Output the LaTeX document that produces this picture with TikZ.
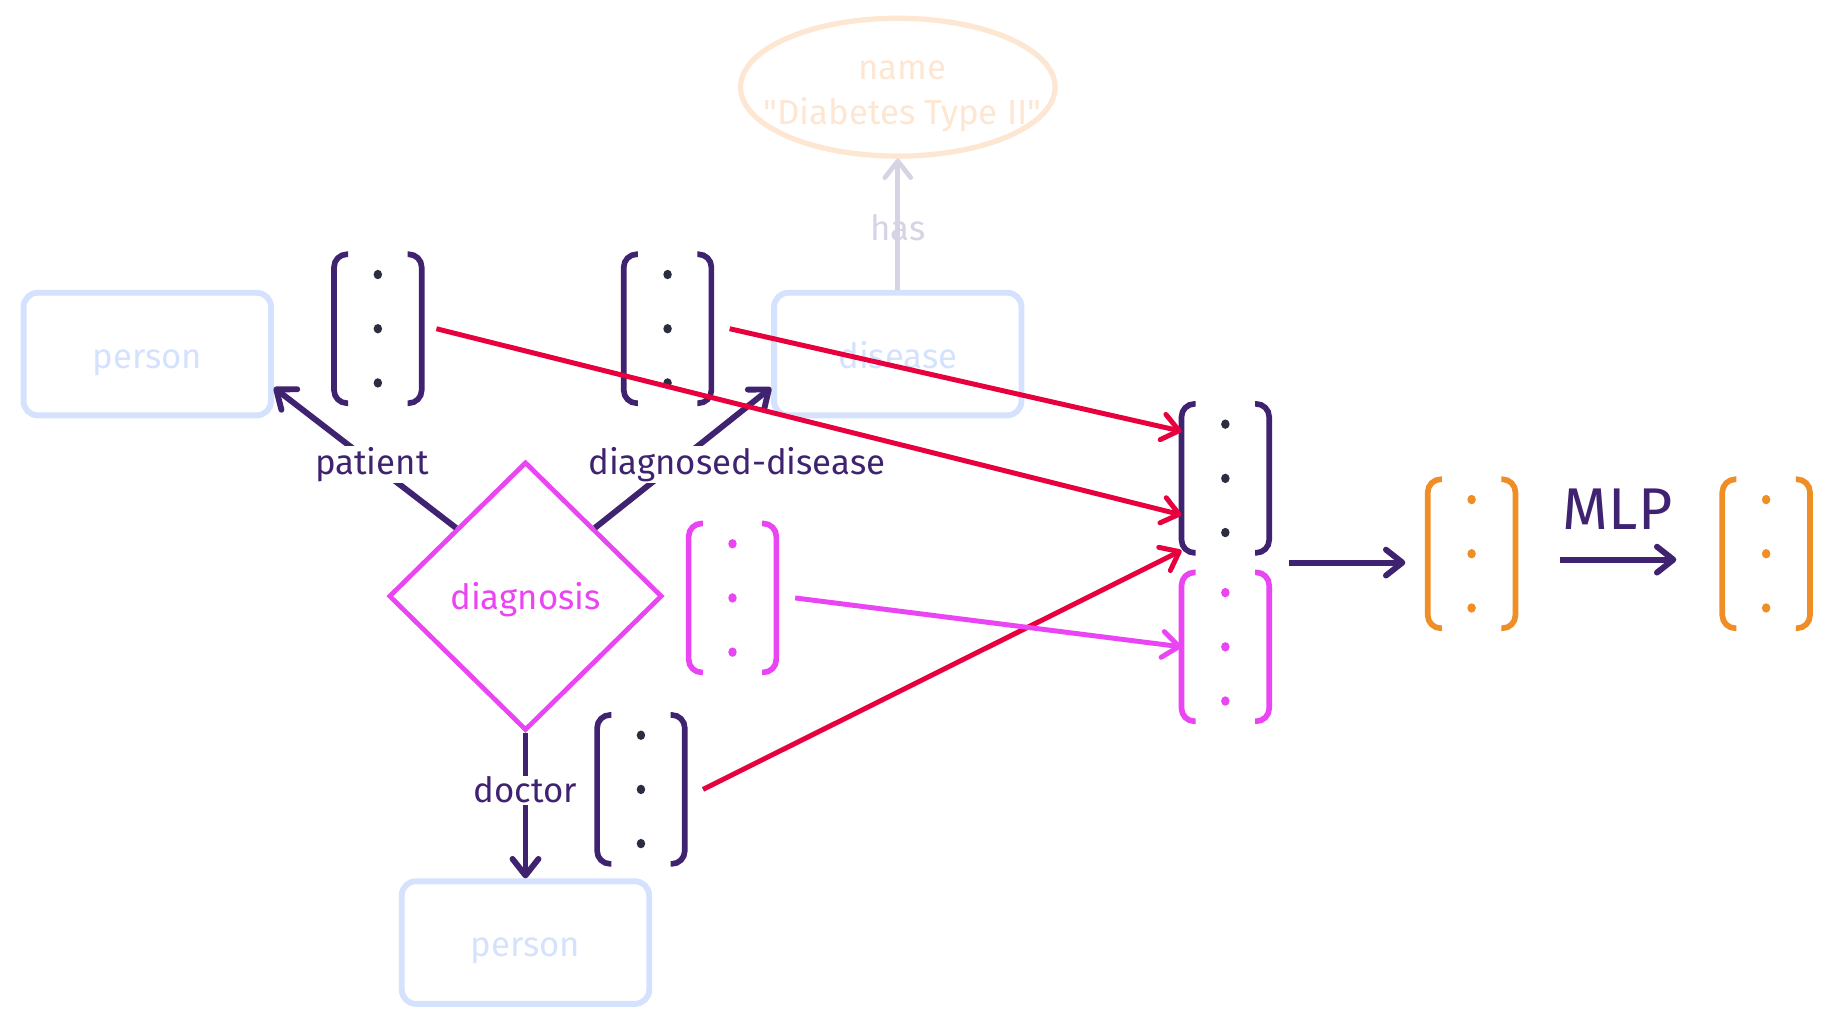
\documentclass[tikz,border=0pt]{standalone}
\usepackage{fontspec}
\setmainfont{Fira Sans}
\usepackage{tikz}
\usetikzlibrary{shapes.geometric,arrows.meta,calc}
\definecolor{dark}{HTML}{3F2270}
\definecolor{rosso}{HTML}{E6003E}
\definecolor{magen}{HTML}{EA45F3}
\definecolor{orang}{HTML}{EE8E25}
\definecolor{pale}{HTML}{D4E2FE}
\definecolor{peach}{HTML}{FDE6D2}
\definecolor{lilac}{HTML}{D6D3E4}
\definecolor{dotgray}{HTML}{2B2D40}
\tikzstyle{entity} = [draw=pale,line width=5pt,rounded corners=12pt,minimum width=210pt,minimum height=104pt,text=pale,text height=24pt,text depth=0pt]
\tikzstyle{attr} = [ellipse,draw=peach,line width=4.5pt,minimum width=267pt,minimum height=117pt,inner sep=0pt]
\tikzstyle{rel} = [diamond,draw=magen,line width=4pt,aspect=1,minimum width=232pt,minimum height=228pt,inner sep=0pt,text=magen,text depth=0pt]
\tikzstyle{vec} = [minimum width=74pt,minimum height=126pt,inner sep=0pt]
\tikzstyle{lbl} = [fill=white,text=dark,inner sep=1pt]
\tikzstyle{edge} = [dark,line width=5pt]
\tikzstyle{flow} = [line width=4.2pt]
\tikzset{>={Straight Barb[length=14pt,width=22pt,round]}}
\newcommand{\vecbrackets}[3]{%
  \draw[#2,line width=4.8pt,rounded corners=11pt] ([xshift=12pt]#1.north west) -- (#1.north west) -- (#1.south west) -- ([xshift=12pt]#1.south west);
  \draw[#2,line width=4.8pt,rounded corners=11pt] ([xshift=-12pt]#1.north east) -- (#1.north east) -- (#1.south east) -- ([xshift=-12pt]#1.south east);
  \foreach \dy in {-46,0,46} \fill[#3] ([yshift=\dy pt]#1.center) ellipse (3.6pt and 4pt);
}
\begin{document}
\begin{tikzpicture}[x=1pt,y=-1pt,font=\fontsize{29.5}{38}\selectfont]
  \useasboundingbox (0,0) rectangle (1560,873.4);
  \node[entity] (p1) at (125,300.5) {person};
  \node[entity] (dis) at (762,300.5) {disease};
  \node[entity] (p2) at (446,800) {person};
  \node[attr] (nm) at (762,74) {};
  \node[text=peach,align=center] (nmt) at (766,82) {name\\\textquotedbl Diabetes Type II\textquotedbl};
  \node[rel] (dg) at (446,506) {diagnosis};

  \draw[lilac,line width=4pt,->] (dis.north) -- (nm.south);
  \node[text=lilac] (lh) at (762,193) {has};

  \draw[edge,->] (dg.north west) -- ([yshift=26pt]p1.south east);
  \draw[edge,->] (dg.north east) -- ([yshift=26pt]dis.south west);
  \draw[edge,->] (dg.south) -- (p2.north);
  \node[lbl] (lp) at (315.6,394.4) {patient};
  \node[lbl] (ld) at (625.3,394.4) {diagnosed-disease};
  \node[lbl] (lc) at (446,670.6) {doctor};

  \node[vec] (vp) at (320.7,279) {};
  \node[vec] (vd) at (566.6,279) {};
  \node[vec] (vg) at (621.7,507.5) {};
  \node[vec] (vc) at (544,670) {};
  \node[vec] (cu) at (1040,406) {};
  \node[vec] (cl) at (1040,549) {};
  \node[vec] (o1) at (1249,470) {};
  \node[vec] (o2) at (1499,470) {};
  \vecbrackets{vp}{dark}{dotgray}
  \vecbrackets{vd}{dark}{dotgray}
  \vecbrackets{vg}{magen}{magen}
  \vecbrackets{vc}{dark}{dotgray}
  \vecbrackets{cu}{dark}{dotgray}
  \vecbrackets{cl}{magen}{magen}
  \vecbrackets{o1}{orang}{orang}
  \vecbrackets{o2}{orang}{orang}

  \draw[flow,rosso,->] ([xshift=12.5pt]vp.east) -- ([yshift=-31pt]cu.west);
  \draw[flow,rosso,->] ([xshift=15.5pt]vd.east) -- ([yshift=40pt]cu.west);
  \draw[flow,rosso,->] ([xshift=15.5pt]vc.east) -- ([yshift=2pt]cu.south west);
  \draw[flow,magen,->] ([xshift=16pt]vg.east) -- (cl.west);

  \coordinate (cc) at ($(cu.south east)!0.5!(cl.north east)+(17,0)$);
  \draw[edge,->] (cc) -- ([xshift=-19pt]o1.west |- cc);
  \draw[edge,->] ([xshift=38pt,yshift=-5pt]o1.east) -- ([xshift=-39pt,yshift=-5pt]o2.west);
  \node[text=dark,font=\fontsize{50}{60}\selectfont] (mlp) at (1373,432) {MLP};
\end{tikzpicture}
\end{document}
